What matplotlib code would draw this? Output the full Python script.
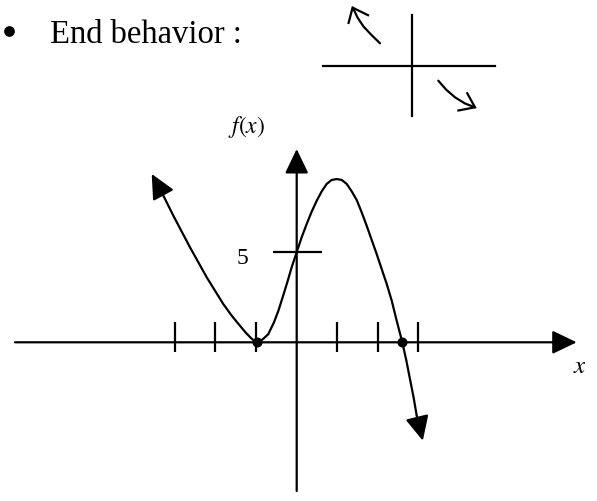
import matplotlib
matplotlib.use("Agg")
import matplotlib.pyplot as plt

plt.rcParams['mathtext.fontset'] = 'stix'

# ---------------- data (graph units) ----------------
curve_x = [-3.325, -3.039, -2.628, -2.217, -1.808, -1.601, -1.40, -1.25, -1.12,
           -1.04, -0.97, -0.90, -0.82, -0.70, -0.56, -0.45, -0.33, -0.22, -0.123,
           0.0, 0.123, 0.246, 0.369, 0.493, 0.616, 0.739, 0.862, 0.985, 1.108,
           1.232, 1.355, 1.478, 1.601, 1.724, 1.847, 1.970, 2.094, 2.217, 2.340,
           2.463, 2.601, 2.70, 2.79, 2.88, 2.956]
curve_y = [8.28, 6.99, 5.24, 3.59, 2.11, 1.47, 0.92, 0.52, 0.22,
           0.07, 0.0, 0.06, 0.20, 0.45, 1.10, 1.75, 2.60, 3.40, 4.15,
           4.97, 5.80, 6.53, 7.21, 7.81, 8.33, 8.74, 8.96, 9.01, 8.96,
           8.74, 8.33, 7.85, 7.17, 6.43, 5.65, 4.87, 4.04, 3.22, 2.30,
           1.19, 0.0, -1.00, -2.03, -3.05, -4.05]
left_tip = (-3.571, 9.29)
right_tip = (3.106, -5.43)
roots_x = [-0.97, 2.601]
roots_y = [0, 0]
xtick_vals = [-3, -2, -1, 1, 2, 3]
ytick_val = 5
ytick_label = "5"

# End-behaviour sketch (pixel units of the picture)
sk_up_x = [380.0, 371.0, 363.5, 357.5, 353.0]
sk_up_y = [44.3, 35.5, 27.5, 18.5, 9.0]
sk_up_head_x = [348.3, 352.6, 369.0]
sk_up_head_y = [25.0, 8.6, 16.7]
sk_dn_x = [438.3, 446.0, 455.0, 465.0, 475.0]
sk_dn_y = [81.7, 90.5, 98.3, 104.5, 108.3]
sk_dn_head_x = [466.7, 475.0, 457.3]
sk_dn_head_y = [93.3, 108.3, 111.7]

# ---------------- layout ----------------
W, H = 597, 502
DPI = 100
OX, OY = 296.7, 343.3      # origin in pixels (from top-left)
XPX, YPX = 40.6, 18.12     # pixels per unit

fig = plt.figure(figsize=(W / DPI, H / DPI), dpi=DPI)
fig.patch.set_facecolor('white')

ax = fig.add_axes([0, 0, 1, 1])
ax.set_xlim(-OX / XPX, (W - OX) / XPX)
ax.set_ylim(-(H - OY) / YPX, OY / YPX)
ax.axis('off')

LW = 1.6
arrow_style = "-|>,head_length=1.5,head_width=0.72"
aprops = dict(arrowstyle=arrow_style, mutation_scale=10, lw=LW, color='black',
              shrinkA=0, shrinkB=0)

# axes with arrows
x_left, x_right = (15 - OX) / XPX, (576.7 - OX) / XPX
y_bottom, y_top = (OY - 492) / YPX, (OY - 150) / YPX
ax.annotate("", xy=(x_right, 0), xytext=(x_left, 0), arrowprops=aprops)
ax.annotate("", xy=(0, y_top), xytext=(0, y_bottom), arrowprops=aprops)

# tick marks
t_hi, t_lo = (OY - 322.5) / YPX, (OY - 352.5) / YPX
ax.vlines(xtick_vals, t_lo, t_hi, color='black', lw=LW)
ax.hlines(ytick_val, (272.7 - OX) / XPX, (321.7 - OX) / XPX, color='black', lw=LW)
ax.text((242.5 - OX) / XPX, ytick_val - 0.3, ytick_label, fontsize=17,
        family='Liberation Serif', ha='center', va='center')

# the curve
ax.plot(curve_x, curve_y, color='black', lw=LW, solid_capstyle='butt',
        solid_joinstyle='round')
ax.annotate("", xy=left_tip, xytext=(curve_x[0], curve_y[0]), arrowprops=aprops)
ax.annotate("", xy=right_tip, xytext=(curve_x[-1], curve_y[-1]), arrowprops=aprops)
ax.plot(roots_x, roots_y, 'o', color='black', markersize=6.2, zorder=5)

# axis labels
ax.text((246.5 - OX) / XPX, (OY - 127) / YPX, r"$f(x)$", fontsize=17,
        ha='center', va='center')
ax.text((580 - OX) / XPX, (OY - 366) / YPX, r"$x$", fontsize=18,
        ha='center', va='center')

# ---------------- header ----------------
ax2 = fig.add_axes([0, 0, 1, 1], facecolor='none')
ax2.set_xlim(0, W)
ax2.set_ylim(H, 0)
ax2.axis('off')

ax2.plot([8.7], [32], 'o', color='black', markersize=6.7)
ax2.text(50, 43.3, "End behavior :", fontsize=23.5, family='Liberation Serif',
         ha='left', va='baseline')

ax2.plot([323.3, 495], [67, 67], color='black', lw=LW)
ax2.plot([411.7, 411.7], [15.7, 117.3], color='black', lw=LW)
ax2.plot(sk_up_x, sk_up_y, color='black', lw=LW, solid_capstyle='round')
ax2.plot(sk_up_head_x, sk_up_head_y, color='black', lw=LW,
         solid_joinstyle='miter', solid_capstyle='butt')
ax2.plot(sk_dn_x, sk_dn_y, color='black', lw=LW, solid_capstyle='round')
ax2.plot(sk_dn_head_x, sk_dn_head_y, color='black', lw=LW,
         solid_joinstyle='miter', solid_capstyle='butt')

fig.savefig("out.png", dpi=DPI, facecolor='white')
